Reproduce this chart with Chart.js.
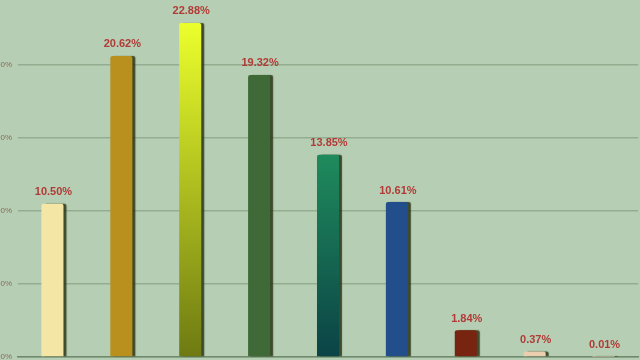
<!DOCTYPE html>
<html>
<head>
<meta charset="utf-8">
<script src="https://cdn.jsdelivr.net/npm/chart.js@4"></script>
<style>
  html, body { margin: 0; padding: 0; background: #b6cfb4; }
  #wrap { width: 640px; height: 360px; }
</style>
</head>
<body>
<div id="wrap"><canvas id="myChart"></canvas></div>
<script>
const categories = ['A', 'B', 'C', 'D', 'E', 'F', 'G', 'H', 'I'];
const shares = [10.50, 20.62, 22.88, 19.32, 13.85, 10.61, 1.84, 0.37, 0.01];
const tickValues = [0, 5, 10, 15, 20];

// top / bottom colour of each bar (same = flat)
const topColors = ['#f4e6a4', '#b98f1e', '#ecff2c', '#3f6a38', '#1f8b5c', '#224e8c', '#772510', '#ebcdb0', '#e0c8b0'];
const bottomColors = ['#f4e6a4', '#b98f1e', '#6e7a12', '#3f6a38', '#0b4346', '#224e8c', '#772510', '#ebcdb0', '#e0c8b0'];

const ctx = document.getElementById('myChart');

const barShadow = {
  id: 'barShadow',
  beforeDatasetDraw(chart) {
    const c = chart.ctx;
    c.save();
    c.shadowColor = 'rgba(40,50,20,0.85)';
    c.shadowOffsetX = 3;
    c.shadowOffsetY = 0;
    c.shadowBlur = 1;
  },
  afterDatasetDraw(chart) {
    chart.ctx.restore();
  }
};

const valueLabels = {
  id: 'valueLabels',
  afterDatasetsDraw(chart) {
    const c = chart.ctx;
    const meta = chart.getDatasetMeta(0);
    c.save();
    c.font = 'bold 11px "Liberation Sans", Arial, sans-serif';
    c.fillStyle = '#b23a36';
    c.textAlign = 'center';
    c.textBaseline = 'bottom';
    meta.data.forEach((bar, i) => {
      c.fillText(shares[i].toFixed(2) + '%', bar.x + 1, bar.y - 6);
    });
    c.restore();
  }
};

new Chart(ctx, {
  type: 'bar',
  data: {
    labels: categories,
    datasets: [{
      data: shares,
      backgroundColor(context) {
        const chart = context.chart;
        const i = context.dataIndex;
        if (!chart.chartArea || topColors[i] === bottomColors[i]) return topColors[i];
        const y = chart.scales.y;
        const g = chart.ctx.createLinearGradient(0, y.getPixelForValue(shares[i]), 0, y.getPixelForValue(0));
        g.addColorStop(0, topColors[i]);
        g.addColorStop(1, bottomColors[i]);
        return g;
      },
      borderRadius: { topLeft: 2, topRight: 2 },
      borderSkipped: 'bottom',
      categoryPercentage: 1,
      barPercentage: 0.32
    }]
  },
  options: {
    responsive: true,
    maintainAspectRatio: false,
    animation: false,
    layout: { padding: { left: 0, right: 2, top: 0, bottom: 3 } },
    plugins: {
      legend: { display: false },
      tooltip: { enabled: false }
    },
    scales: {
      x: {
        display: true,
        afterFit(scale) { scale.height = 0; scale.paddingLeft = 0; scale.paddingRight = 0; },
        grid: { display: false, drawTicks: false },
        border: { display: true, color: '#6f8a6c', width: 1.5 },
        ticks: { display: false }
      },
      y: {
        min: 0,
        max: 24.45,
        afterFit(scale) { scale.width = 18; scale.paddingTop = 0; scale.paddingBottom = 0; },
        afterBuildTicks(scale) { scale.ticks = tickValues.map(v => ({ value: v })); },
        grid: { color: '#93ad90', lineWidth: 1.5, drawTicks: false },
        border: { display: false },
        ticks: {
          padding: 6,
          color: '#8a6a5a',
          font: { size: 8, family: '"Liberation Sans", Arial, sans-serif' },
          callback: v => v.toFixed(2) + '%'
        }
      }
    }
  },
  plugins: [barShadow, valueLabels]
});
</script>
</body>
</html>
